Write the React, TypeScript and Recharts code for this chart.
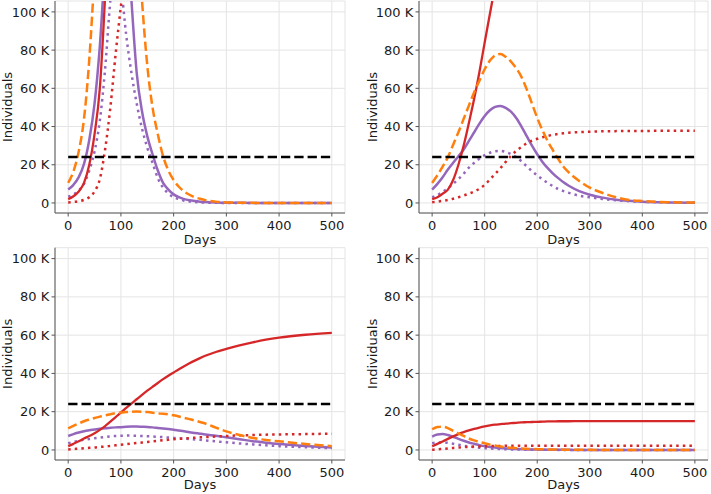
import React from 'react';
import { LineChart, Line, XAxis, YAxis, CartesianGrid } from 'recharts';

// days sampled for every series (values in thousands of individuals)
const days = [0, 10, 20, 30, 40, 50, 60, 70, 80, 90, 100, 110, 120, 130, 140, 150, 160, 170, 180, 190, 200, 210, 220, 230, 240, 250, 260, 280, 300, 325, 350, 375, 400, 450, 500];

const capacity = 24;

const xTicks = [0, 100, 200, 300, 400, 500];
const yTicks = [0, 20, 40, 60, 80, 100];

// top-left panel
const tlRedSolid = [2, 3.5, 6, 10.5, 20, 36, 60, 108, 170, 230, 280, 320, 350, 372, 390, 404, 415, 424, 431, 437, 442, 446, 449, 452, 454, 456, 458, 460, 462, 463, 464, 465, 466, 467, 468];
const tlRedDotted = [0.3, 0.5, 0.9, 1.6, 3, 6, 12.5, 28, 50, 78, 103, 125, 142, 155, 165, 172, 178, 182, 185, 187, 189, 190, 191, 192, 192.5, 193, 193.5, 194, 194.5, 195, 195, 195, 195, 195, 195];
const tlOrange = [10.5, 16.5, 27, 44, 75, 120, 170, 215, 250, 265, 260, 235, 195, 150, 106, 72, 50, 36, 24.5, 17, 12, 8.5, 6, 4.3, 3, 2.2, 1.5, 0.7, 0.3, 0.15, 0.05, 0.02, 0, 0, 0];
const tlPurpleSolid = [7, 9.5, 13.5, 20.5, 33, 52, 82, 125, 160, 180, 175, 150, 106, 68, 48, 35, 25.5, 17, 10.5, 7, 4.5, 3, 2, 1.4, 1, 0.7, 0.5, 0.25, 0.1, 0.05, 0.02, 0, 0, 0, 0];
const tlPurpleDotted = [3.3, 4.5, 6.5, 10, 17, 27, 43, 70, 106, 128, 114, 88, 68, 52, 39, 29, 21, 13, 8, 5, 3, 2, 1.2, 0.8, 0.5, 0.3, 0.2, 0.1, 0, 0, 0, 0, 0, 0, 0];

// top-right panel
const trRedSolid = [2, 3, 4.8, 7, 12, 20, 30, 42, 54.5, 68.5, 84, 99, 114, 128, 141, 153, 164, 174, 183, 191, 198, 204, 209, 213, 217, 220, 222, 226, 229, 231, 233, 234, 235, 236, 236];
const trRedDotted = [0.4, 0.7, 1.1, 1.6, 2.2, 3, 3.9, 4.9, 6, 7.4, 9.5, 12.3, 15.2, 18.2, 21.5, 24.6, 27.2, 29.3, 31.2, 32.6, 33.6, 34.4, 35.1, 35.7, 36.1, 36.5, 36.8, 37.1, 37.3, 37.5, 37.6, 37.7, 37.7, 37.8, 37.8];
const trOrange = [10.5, 14.5, 19, 24, 30.5, 37, 44, 51, 58, 64, 70, 74.5, 77.3, 78, 76.5, 74, 70.5, 66, 59.5, 52, 44.5, 38, 32.3, 27.5, 23, 19, 16, 11.5, 8, 5.2, 3, 1.6, 1, 0.4, 0.2];
const trPurpleSolid = [7, 10, 13.5, 17.5, 21, 24.5, 28, 32.5, 37, 41.5, 45.5, 48.5, 50.3, 50.8, 49.8, 47.8, 44.5, 40, 35, 30, 25.5, 21.5, 18.2, 15.4, 13, 10.8, 9, 6.2, 4.3, 2.8, 1.7, 1.1, 0.7, 0.3, 0.1];
const trPurpleDotted = [3, 4.2, 5.8, 7.7, 10, 12.5, 15.3, 18.5, 21, 23.2, 25, 26.3, 27.1, 27.3, 26.7, 25.6, 24, 21.8, 19.2, 16.7, 14.4, 12.3, 10.5, 8.8, 7.3, 6.2, 5.3, 3.8, 3, 2.1, 1.4, 0.9, 0.6, 0.3, 0.1];

// bottom-left panel
const blRedSolid = [2, 3.2, 4.5, 6, 7.3, 8.7, 10.5, 12.5, 14.8, 17.2, 19.5, 22, 24.2, 26.5, 28.8, 31, 33, 35, 37, 38.8, 40.5, 42.2, 43.8, 45.3, 46.7, 48, 49.2, 51.2, 52.8, 54.6, 56.2, 57.6, 58.7, 60.2, 61.2];
const blRedDotted = [0.3, 0.5, 0.7, 0.9, 1.1, 1.3, 1.6, 1.8, 2.1, 2.4, 2.7, 3, 3.3, 3.6, 3.9, 4.2, 4.5, 4.8, 5.1, 5.3, 5.6, 5.8, 6, 6.2, 6.4, 6.6, 6.7, 7, 7.3, 7.6, 7.8, 8, 8.1, 8.3, 8.5];
const blOrange = [11.3, 12.6, 13.8, 15, 15.9, 16.7, 17.4, 18.1, 18.7, 19.2, 19.6, 19.8, 20, 20.1, 20, 19.8, 19.5, 19.1, 18.9, 18.6, 18.1, 17.5, 16.8, 16.1, 15.4, 14.6, 13.8, 11.7, 9.7, 7.8, 6.3, 5.2, 4.5, 3.1, 2];
const blPurpleSolid = [7.3, 8.3, 9.1, 9.8, 10.3, 10.7, 11.1, 11.4, 11.6, 11.8, 11.9, 12.1, 12.2, 12.2, 12.1, 12, 11.8, 11.5, 11.2, 10.9, 10.6, 10.2, 9.8, 9.3, 8.9, 8.5, 8.1, 7.4, 6.6, 5.6, 4.6, 3.8, 3.1, 2.1, 1.3];
const blPurpleDotted = [3.5, 4.2, 4.8, 5.3, 5.7, 6.1, 6.5, 6.8, 7.1, 7.3, 7.4, 7.5, 7.5, 7.4, 7.3, 7.2, 7, 6.9, 6.7, 6.5, 6.3, 6.1, 5.9, 5.7, 5.5, 5.3, 5, 4.5, 4, 3.4, 2.9, 2.4, 2, 1.4, 0.9];

// bottom-right panel
const brRedSolid = [1.9, 3.2, 4.4, 5.8, 7.1, 8.3, 9.3, 10.2, 11, 11.7, 12.3, 12.8, 13.2, 13.5, 13.8, 14, 14.2, 14.4, 14.5, 14.6, 14.7, 14.8, 14.9, 14.9, 15, 15, 15, 15.1, 15.1, 15.1, 15.1, 15.1, 15.1, 15.1, 15.1];
const brRedDotted = [0.1, 0.3, 0.55, 0.8, 1.05, 1.25, 1.45, 1.6, 1.75, 1.85, 1.95, 2.02, 2.08, 2.12, 2.15, 2.18, 2.2, 2.2, 2.2, 2.2, 2.2, 2.2, 2.2, 2.2, 2.2, 2.2, 2.2, 2.2, 2.2, 2.2, 2.2, 2.2, 2.2, 2.2, 2.2];
const brOrange = [10.8, 12, 12.2, 11.4, 10, 8.6, 7.3, 6, 5, 4.2, 3.5, 2.8, 2.3, 1.8, 1.4, 1.1, 0.9, 0.7, 0.6, 0.5, 0.4, 0.35, 0.3, 0.25, 0.2, 0.15, 0.12, 0.08, 0.05, 0.03, 0.02, 0.01, 0, 0, 0];
const brPurpleSolid = [7, 8.1, 8.3, 7.8, 6.9, 5.8, 4.8, 3.9, 3.2, 2.5, 2, 1.6, 1.3, 1, 0.8, 0.6, 0.5, 0.4, 0.3, 0.25, 0.2, 0.15, 0.12, 0.1, 0.08, 0.06, 0.05, 0.03, 0.02, 0.01, 0, 0, 0, 0, 0];
const brPurpleDotted = [3.5, 3.9, 4, 3.7, 3.2, 2.7, 2.2, 1.8, 1.5, 1.2, 0.95, 0.75, 0.6, 0.5, 0.4, 0.3, 0.25, 0.2, 0.15, 0.12, 0.1, 0.08, 0.06, 0.05, 0.04, 0.03, 0.02, 0.01, 0, 0, 0, 0, 0, 0, 0];

const RED = '#d62728';
const ORANGE = '#ff7f0e';
const PURPLE = '#9467bd';
const SPINE = '#555555';
const GRID = '#e4e4e4';
const TEXT = '#1a1a1a';
const FONT = 13;
const FAMILY = 'DejaVu Sans';

interface PanelProps {
  redSolid: number[];
  redDotted: number[];
  orange: number[];
  purpleSolid: number[];
  purpleDotted: number[];
  left: number;
  top: number;
  width: number;
  marginTop: number;
  marginRight: number;
  yAxisWidth: number;
  labelDx: number;
  daysOffset: number;
}

const Panel: React.FC<PanelProps> = (p) => {
  const rows = days.map((day, i) => ({
    day,
    redSolid: p.redSolid[i],
    redDotted: p.redDotted[i],
    orange: p.orange[i],
    purpleSolid: p.purpleSolid[i],
    purpleDotted: p.purpleDotted[i],
    capacity,
  }));
  const xDomain = [-25, 525];
  const yDomain = [-5.25, 105.7];
  const tickProps = { fontSize: FONT, fill: TEXT, fontFamily: FAMILY };

  return (
    <div style={{ position: 'absolute', left: p.left, top: p.top, fontFamily: FAMILY }}>
      <LineChart
        width={p.width}
        height={247}
        data={rows}
        margin={{ top: p.marginTop, right: p.marginRight, bottom: 2, left: 0 }}
      >
        <CartesianGrid stroke={GRID} strokeWidth={1} />
        <XAxis
          dataKey="day"
          type="number"
          domain={xDomain}
          ticks={xTicks}
          allowDataOverflow
          height={32}
          tickSize={3.5}
          tickMargin={4.5}
          tick={tickProps}
          tickLine={{ stroke: SPINE }}
          axisLine={{ stroke: SPINE }}
          label={{ value: 'Days', position: 'insideBottom', offset: p.daysOffset, fontSize: FONT, fill: TEXT, fontFamily: FAMILY }}
        />
        <YAxis
          type="number"
          domain={yDomain}
          ticks={yTicks}
          allowDataOverflow
          width={p.yAxisWidth}
          tickSize={3.5}
          tickMargin={2.2}
          tick={tickProps}
          tickFormatter={(v: number) => (v === 0 ? '0' : `${v} K`)}
          tickLine={{ stroke: SPINE }}
          axisLine={{ stroke: SPINE }}
          label={{ value: 'Individuals', angle: -90, position: 'center', dx: p.labelDx, fontSize: FONT, fill: TEXT, fontFamily: FAMILY }}
        />
        {/* top and right spines */}
        <XAxis xAxisId="top" orientation="top" type="number" domain={xDomain} height={0} tick={false} tickLine={false} axisLine={{ stroke: SPINE }} />
        <YAxis yAxisId="right" orientation="right" type="number" domain={yDomain} width={0} tick={false} tickLine={false} axisLine={{ stroke: SPINE }} />

        <Line type="monotone" dataKey="purpleDotted" stroke={PURPLE} strokeWidth={2.5} strokeDasharray="2.5 4.1" dot={false} isAnimationActive={false} />
        <Line type="monotone" dataKey="purpleSolid" stroke={PURPLE} strokeWidth={2.5} dot={false} isAnimationActive={false} />
        <Line type="monotone" dataKey="redDotted" stroke={RED} strokeWidth={2.5} strokeDasharray="2.5 4.1" dot={false} isAnimationActive={false} />
        <Line type="monotone" dataKey="redSolid" stroke={RED} strokeWidth={2.3} dot={false} isAnimationActive={false} />
        <Line type="monotone" dataKey="orange" stroke={ORANGE} strokeWidth={2.5} strokeDasharray="9.3 4" dot={false} isAnimationActive={false} />
        <Line type="linear" dataKey="capacity" stroke="#000000" strokeWidth={2.5} strokeDasharray="9.3 4" dot={false} isAnimationActive={false} />
      </LineChart>
    </div>
  );
};

export default function App() {
  return (
    <div style={{ position: 'absolute', left: 0, top: 0, width: 711, height: 494, background: '#ffffff', fontFamily: FAMILY }}>
      <Panel
        redSolid={tlRedSolid}
        redDotted={tlRedDotted}
        orange={tlOrange}
        purpleSolid={tlPurpleSolid}
        purpleDotted={tlPurpleDotted}
        left={0}
        top={0}
        width={355}
        marginTop={1}
        marginRight={10}
        yAxisWidth={55}
        labelDx={-20}
        daysOffset={1.5}
      />
      <Panel
        redSolid={trRedSolid}
        redDotted={trRedDotted}
        orange={trOrange}
        purpleSolid={trPurpleSolid}
        purpleDotted={trPurpleDotted}
        left={355}
        top={0}
        width={356}
        marginTop={1}
        marginRight={3}
        yAxisWidth={64}
        labelDx={-15}
        daysOffset={1.5}
      />
      <Panel
        redSolid={blRedSolid}
        redDotted={blRedDotted}
        orange={blOrange}
        purpleSolid={blPurpleSolid}
        purpleDotted={blPurpleDotted}
        left={0}
        top={247}
        width={355}
        marginTop={0.7}
        marginRight={10}
        yAxisWidth={55}
        labelDx={-20}
        daysOffset={3.5}
      />
      <Panel
        redSolid={brRedSolid}
        redDotted={brRedDotted}
        orange={brOrange}
        purpleSolid={brPurpleSolid}
        purpleDotted={brPurpleDotted}
        left={355}
        top={247}
        width={356}
        marginTop={0.7}
        marginRight={3}
        yAxisWidth={64}
        labelDx={-15}
        daysOffset={3.5}
      />
    </div>
  );
}
